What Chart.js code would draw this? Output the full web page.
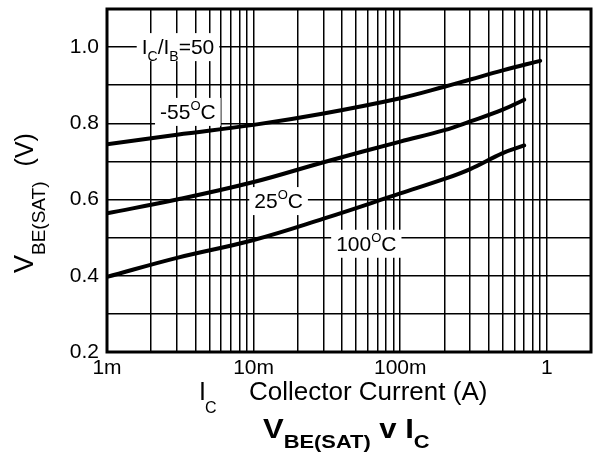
<!DOCTYPE html>
<html>
<head>
<meta charset="utf-8">
<script src="https://cdn.jsdelivr.net/npm/chart.js@4"></script>
<style>
  body { margin: 0; background: #fff; }
  #c { display: block; }
</style>
</head>
<body>
<canvas id="c" width="593" height="466"></canvas>
<script>
// collector current (A) and VBE(sat) (V)
const iMinus55 = [0.001, 0.003, 0.01, 0.03, 0.1, 0.2, 0.3, 0.5, 0.9];
const vMinus55 = [0.745, 0.77, 0.796, 0.826, 0.866, 0.896, 0.915, 0.939, 0.964];
const i25 = [0.001, 0.003, 0.01, 0.03, 0.1, 0.2, 0.3, 0.5, 0.7];
const v25 = [0.564, 0.6, 0.646, 0.698, 0.752, 0.782, 0.805, 0.836, 0.862];
const i100 = [0.001, 0.003, 0.01, 0.03, 0.1, 0.2, 0.3, 0.5, 0.7];
const v100 = [0.397, 0.447, 0.494, 0.55, 0.616, 0.654, 0.68, 0.722, 0.742];

const xDecades = [0.001, 0.01, 0.1, 1];
const xDecadeLabels = ["1m", "10m", "100m", "1"];
const yTicks = [0.2, 0.3, 0.4, 0.5, 0.6, 0.7, 0.8, 0.9, 1.0, 1.1];
const yTickLabels = ["0.2", "", "0.4", "", "0.6", "", "0.8", "", "1.0", ""];

const FONT = "'Liberation Sans', Arial, sans-serif";

function pts(xs, ys) {
  return xs.map((x, i) => ({ x: x, y: ys[i] }));
}

// minor grid: 1..9 in every decade up to 2A
function xGridValues() {
  const out = [];
  for (const d of xDecades) {
    for (let m = 1; m <= 9; m++) out.push(+(d * m).toPrecision(3));
  }
  out.push(2);
  return out;
}

// text runs with sub/superscripts
function drawRuns(ctx, runs, x, y) {
  let cx = x;
  for (const r of runs) {
    ctx.font = (r.bold ? "bold " : "") + r.size + "px " + FONT;
    ctx.fillText(r.t, cx, y + (r.dy || 0));
    cx += ctx.measureText(r.t).width + (r.gap || 0);
  }
  return cx - x;
}
function runsWidth(ctx, runs) {
  let w = 0;
  for (const r of runs) {
    ctx.font = (r.bold ? "bold " : "") + r.size + "px " + FONT;
    w += ctx.measureText(r.t).width + (r.gap || 0);
  }
  return w;
}

const curveLabels = [
  { x: 0.00305, y: 1.0, runs: [{t: "I", size: 21}, {t: "C", size: 14, dy: 7}, {t: "/I", size: 21}, {t: "B", size: 14, dy: 7}, {t: "=50", size: 21}] },
  { x: 0.00356, y: 0.83, runs: [{t: "-55", size: 21}, {t: "O", size: 13, dy: -9}, {t: "C", size: 21}] },
  { x: 0.0148, y: 0.596, runs: [{t: "25", size: 21}, {t: "O", size: 13, dy: -9}, {t: "C", size: 21}] },
  { x: 0.0587, y: 0.484, runs: [{t: "100", size: 21}, {t: "O", size: 13, dy: -9}, {t: "C", size: 21}] }
];

const labelPlugin = {
  id: "labels",
  beforeDatasetsDraw(chart) {
    const ctx = chart.ctx;
    const xs = chart.scales.x, ys = chart.scales.y;
    ctx.save();
    ctx.textBaseline = "alphabetic";
    ctx.textAlign = "left";
    for (const l of curveLabels) {
      const cx = xs.getPixelForValue(l.x);
      const cy = ys.getPixelForValue(l.y);
      const w = runsWidth(ctx, l.runs);
      ctx.fillStyle = "#fff";
      ctx.fillRect(cx - w / 2 - 5, cy - 14, w + 10, 28);
      ctx.fillStyle = "#000";
      drawRuns(ctx, l.runs, cx - w / 2, cy + 7);
    }
    ctx.restore();
  },
  afterDraw(chart) {
    const ctx = chart.ctx;
    const a = chart.chartArea;
    ctx.save();
    ctx.strokeStyle = "#000";
    ctx.lineWidth = 3;
    ctx.strokeRect(a.left, a.top, a.right - a.left, a.bottom - a.top);

    ctx.fillStyle = "#000";
    ctx.textAlign = "left";
    ctx.textBaseline = "alphabetic";

    // x axis title
    drawRuns(ctx, [{t: "I", size: 25, gap: 1}], 199, 400);
    drawRuns(ctx, [{t: "C", size: 16}], 205, 413);
    drawRuns(ctx, [{t: "Collector Current (A)", size: 26}], 249, 400);

    // chart title, slightly widened
    ctx.save();
    ctx.translate(263, 438);
    ctx.scale(1.15, 1);
    let w = drawRuns(ctx, [{t: "V", size: 27, bold: true}], 0, 0);
    w += drawRuns(ctx, [{t: "BE(SAT)", size: 19, bold: true}], w, 10);
    w += drawRuns(ctx, [{t: " v ", size: 27, bold: true}], w, 0);
    w += drawRuns(ctx, [{t: "I", size: 27, bold: true}], w, 0);
    drawRuns(ctx, [{t: "C", size: 19, bold: true}], w, 10);
    ctx.restore();

    // y axis title
    ctx.save();
    ctx.translate(33, 273);
    ctx.rotate(-Math.PI / 2);
    let h = drawRuns(ctx, [{t: "V", size: 27}], 0, 0);
    h += drawRuns(ctx, [{t: "BE(SAT)", size: 19}], h, 12);
    drawRuns(ctx, [{t: "(V)", size: 25}], h + 15, 0);
    ctx.restore();

    ctx.restore();
  }
};

const line = { borderColor: "#000", borderWidth: 4, pointRadius: 0, showLine: true, fill: false, tension: 0.4, borderCapStyle: "round" };

new Chart(document.getElementById("c"), {
  type: "scatter",
  data: {
    datasets: [
      Object.assign({ label: "-55C", data: pts(iMinus55, vMinus55) }, line),
      Object.assign({ label: "25C", data: pts(i25, v25) }, line),
      Object.assign({ label: "100C", data: pts(i100, v100) }, line)
    ]
  },
  options: {
    responsive: false,
    animation: false,
    layout: { padding: { top: 9, right: 2, left: 0, bottom: 0 } },
    plugins: { legend: { display: false }, tooltip: { enabled: false } },
    scales: {
      x: {
        type: "logarithmic",
        min: 0.001,
        max: 2,
        afterBuildTicks(s) { s.ticks = xGridValues().map(v => ({ value: v })); },
        afterFit(s) { s.height = 114; s.paddingLeft = 0; s.paddingRight = 0; },
        ticks: {
          autoSkip: false,
          maxRotation: 0,
          padding: 4,
          color: "#000",
          font: { family: FONT, size: 21 },
          callback(v) {
            const k = xDecades.findIndex(d => Math.abs(d - v) < d * 1e-6);
            return k >= 0 ? xDecadeLabels[k] : "";
          }
        },
        grid: { color: "#000", lineWidth: 1.5, drawTicks: false },
        border: { display: false }
      },
      y: {
        min: 0.2,
        max: 1.1,
        afterBuildTicks(s) { s.ticks = yTicks.map(v => ({ value: v })); },
        afterFit(s) { s.width = 107; s.paddingTop = 0; s.paddingBottom = 0; },
        ticks: {
          autoSkip: false,
          padding: 8,
          color: "#000",
          font: { family: FONT, size: 21 },
          callback(v) {
            const k = yTicks.findIndex(t => Math.abs(t - v) < 1e-6);
            return k >= 0 ? yTickLabels[k] : "";
          }
        },
        grid: { color: "#000", lineWidth: 1.5, drawTicks: false },
        border: { display: false }
      }
    }
  },
  plugins: [labelPlugin]
});
</script>
</body>
</html>
